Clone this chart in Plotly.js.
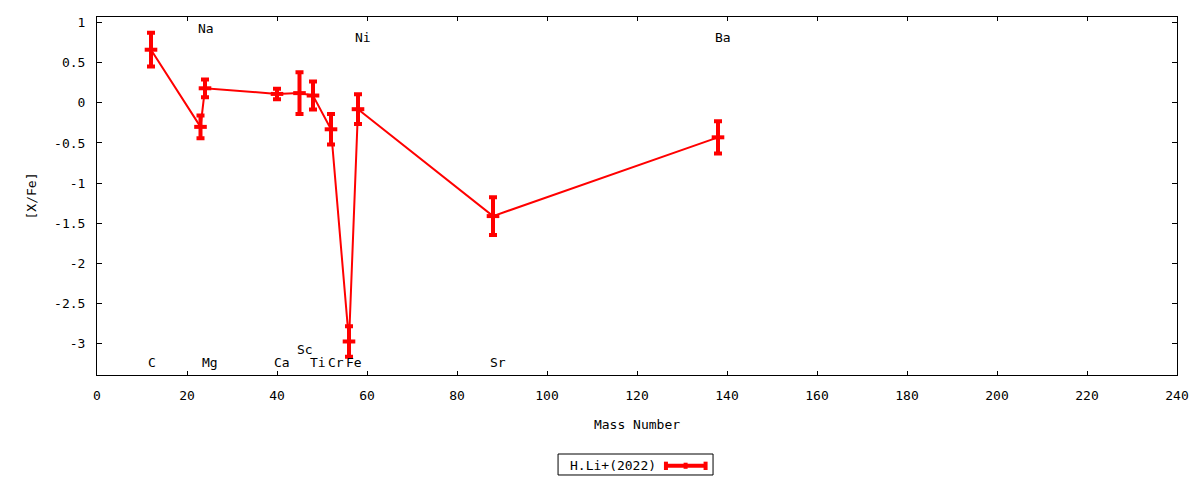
<!DOCTYPE html>
<html>
<head>
<meta charset="utf-8">
<script src="https://cdn.plot.ly/plotly-3.0.1.min.js"></script>
<style>html,body{margin:0;padding:0;background:#fff;}#chart{width:1200px;height:480px;}</style>
</head>
<body>
<div id="chart"></div>
<script>
// Data
const elements = ['C', 'Na', 'Mg', 'Ca', 'Sc', 'Ti', 'Cr', 'Fe', 'Ni', 'Sr', 'Ba'];
const massNumber = [12, 23, 24, 40, 45, 48, 52, 56, 58, 88, 138];
const xFe = [0.66, -0.30, 0.18, 0.11, 0.12, 0.09, -0.33, -2.97, -0.08, -1.41, -0.43];
const xFeErr = [0.21, 0.14, 0.11, 0.065, 0.26, 0.175, 0.19, 0.19, 0.185, 0.235, 0.20];
const labelY = [-3.23, 0.93, -3.23, -3.23, -3.07, -3.23, -3.23, -3.23, 0.81, -3.23, 0.81];
const seriesName = 'H.Li+(2022)';
const xTicks = [0, 20, 40, 60, 80, 100, 120, 140, 160, 180, 200, 220, 240];
const yTicks = [1, 0.5, 0, -0.5, -1, -1.5, -2, -2.5, -3];

const FONT = 'DejaVu Sans Mono, monospace';
const RED = '#ff0000';

const trace = {
  x: massNumber,
  y: xFe,
  type: 'scatter',
  mode: 'lines+markers',
  name: seriesName,
  showlegend: false,
  line: {color: RED, width: 2},
  marker: {symbol: 'line-ew', size: 9, color: RED, line: {color: RED, width: 4}},
  error_y: {type: 'data', array: xFeErr, visible: true, color: RED, thickness: 4, width: 4}
};

const annotations = elements.map((el, i) => ({
  x: massNumber[i], y: labelY[i], xref: 'x', yref: 'y',
  text: el, showarrow: false, xanchor: 'left', yanchor: 'middle', xshift: -5,
  font: {family: FONT, size: 13, color: '#000'}
}));

// legend (gnuplot style: text then sample)
annotations.push({
  x: 0.4361, y: -0.2534, xref: 'paper', yref: 'paper', text: seriesName,
  showarrow: false, xanchor: 'left', yanchor: 'middle',
  font: {family: FONT, size: 13, color: '#000'}
});
const shapes = [
  {type: 'rect', xref: 'paper', yref: 'paper', x0: 0.4269, x1: 0.5704, y0: -0.2793, y1: -0.2207,
   line: {color: '#000', width: 1}, fillcolor: 'rgba(0,0,0,0)'},
  {type: 'line', xref: 'paper', yref: 'paper', x0: 0.525, x1: 0.5648, y0: -0.2534, y1: -0.2534,
   line: {color: RED, width: 4}},
  {type: 'line', xref: 'paper', yref: 'paper', x0: 0.5268, x1: 0.5268, y0: -0.2421, y1: -0.2654,
   line: {color: RED, width: 4}},
  {type: 'line', xref: 'paper', yref: 'paper', x0: 0.5635, x1: 0.5635, y0: -0.2421, y1: -0.2654,
   line: {color: RED, width: 4}},
  {type: 'line', xref: 'paper', yref: 'paper', x0: 0.545, x1: 0.545, y0: -0.2450, y1: -0.2620,
   line: {color: RED, width: 4}}
];

const layout = {
  width: 1200, height: 480,
  margin: {l: 97, r: 23, t: 17, b: 105},
  paper_bgcolor: '#fff', plot_bgcolor: '#fff',
  font: {family: FONT, size: 13, color: '#000'},
  showlegend: false,
  xaxis: {
    range: [0, 240], tickvals: xTicks, ticktext: xTicks.map(String),
    ticks: 'inside', ticklen: 4, tickcolor: '#000', tickwidth: 1,
    showline: true, linecolor: '#000', linewidth: 1, mirror: 'ticks',
    showgrid: false, zeroline: false,
    ticklabelstandoff: 8,
    title: {text: 'Mass Number', font: {family: FONT, size: 13}, standoff: 18}
  },
  yaxis: {
    range: [-3.387, 1.067], tickvals: yTicks, ticktext: yTicks.map(String),
    ticks: 'inside', ticklen: 5, tickcolor: '#000', tickwidth: 1,
    showline: true, linecolor: '#000', linewidth: 1, mirror: 'ticks',
    showgrid: false, zeroline: false,
    ticklabelstandoff: 8,
    title: {text: '[X/Fe]', font: {family: FONT, size: 13}, standoff: 14}
  },
  annotations: annotations,
  shapes: shapes
};

Plotly.newPlot('chart', [trace], layout, {displayModeBar: false, staticPlot: true});
</script>
</body>
</html>
